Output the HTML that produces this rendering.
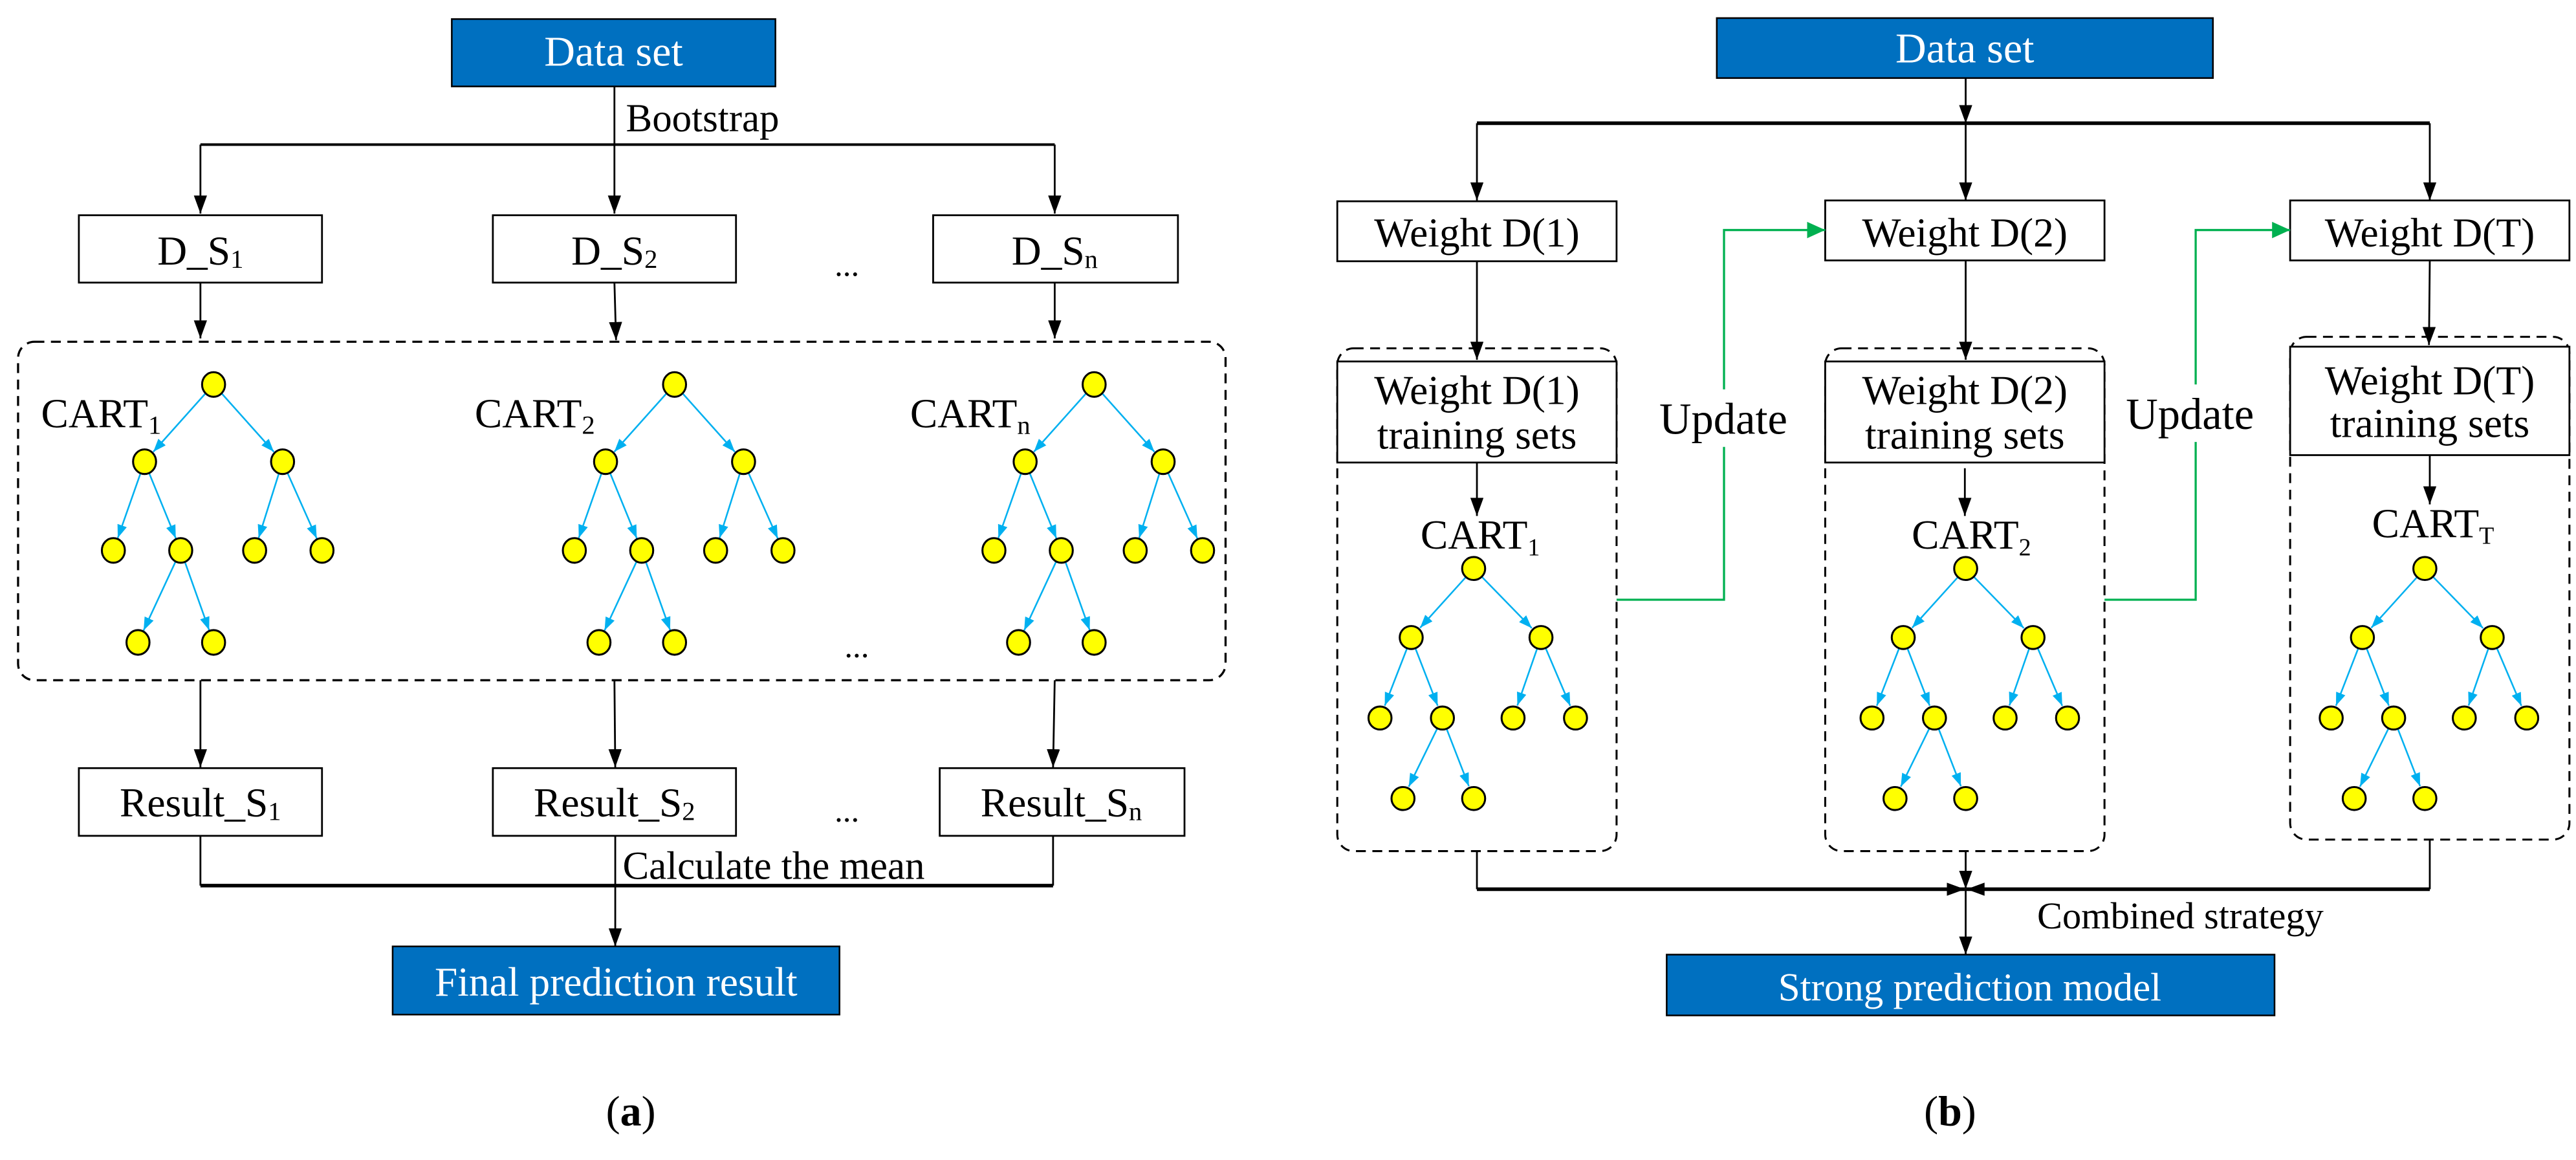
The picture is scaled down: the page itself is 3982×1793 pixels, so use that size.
<!DOCTYPE html>
<html><head><meta charset="utf-8"><style>
html,body{margin:0;padding:0;background:#fff;}
svg{display:block;}
text{font-family:"Liberation Serif",serif;}
</style></head><body>
<svg width="3982" height="1793" viewBox="0 0 1568 706" preserveAspectRatio="none" xmlns="http://www.w3.org/2000/svg">
<defs>
<marker id="ab" markerUnits="userSpaceOnUse" markerWidth="12" markerHeight="9" refX="11" refY="4" orient="auto"><path d="M0,0 L11,4 L0,8 z" fill="#000"/></marker>
<marker id="ag" markerUnits="userSpaceOnUse" markerWidth="12" markerHeight="11" refX="11" refY="5" orient="auto"><path d="M0,0 L11,5 L0,10 z" fill="#00b050"/></marker>
<marker id="au" markerUnits="userSpaceOnUse" markerWidth="9" markerHeight="7" refX="8" refY="3" orient="auto"><path d="M0,0 L8,3 L0,6 z" fill="#00b0f0"/></marker>
<g id="tl" stroke="#00b0f0" stroke-width="1" fill="none">
<line x1="-4.7" y1="5.2" x2="-36.7" y2="41" marker-end="url(#au)"/>
<line x1="4.7" y1="5.2" x2="36.7" y2="41" marker-end="url(#au)"/>
<line x1="-44.3" y1="53.6" x2="-58.3" y2="93.4" marker-end="url(#au)"/>
<line x1="-39.4" y1="53.5" x2="-23" y2="93.6" marker-end="url(#au)"/>
<line x1="39.9" y1="53.7" x2="27.4" y2="93.4" marker-end="url(#au)"/>
<line x1="44.8" y1="53.4" x2="62.8" y2="93.7" marker-end="url(#au)"/>
<line x1="-22.9" y1="107.3" x2="-42.6" y2="149.7" marker-end="url(#au)"/>
<line x1="-17.6" y1="107.6" x2="-2.7" y2="149.5" marker-end="url(#au)"/>
<g fill="#ffff00" stroke="#000" stroke-width="1.2">
<ellipse cx="0" cy="0" rx="7" ry="7.5"/>
<ellipse cx="-42" cy="47" rx="7" ry="7.5"/><ellipse cx="42" cy="47" rx="7" ry="7.5"/>
<ellipse cx="-61" cy="101" rx="7" ry="7.5"/><ellipse cx="-20" cy="101" rx="7" ry="7.5"/>
<ellipse cx="25" cy="101" rx="7" ry="7.5"/><ellipse cx="66" cy="101" rx="7" ry="7.5"/>
<ellipse cx="-46" cy="157" rx="7" ry="7.5"/><ellipse cx="0" cy="157" rx="7" ry="7.5"/>
</g></g>
<g id="tr" stroke="#00b0f0" stroke-width="1" fill="none">
<line x1="-4.7" y1="5.2" x2="-32.6" y2="36.1" marker-end="url(#au)"/>
<line x1="4.9" y1="5" x2="35.4" y2="36.3" marker-end="url(#au)"/>
<line x1="-40.5" y1="48.5" x2="-54.1" y2="83.5" marker-end="url(#au)"/>
<line x1="-35.5" y1="48.5" x2="-21.9" y2="83.5" marker-end="url(#au)"/>
<line x1="38.7" y1="48.6" x2="26.6" y2="83.4" marker-end="url(#au)"/>
<line x1="43.8" y1="48.4" x2="58.8" y2="83.6" marker-end="url(#au)"/>
<line x1="-22.1" y1="97.3" x2="-39.5" y2="132.8" marker-end="url(#au)"/>
<line x1="-16.5" y1="97.5" x2="-2.9" y2="132.5" marker-end="url(#au)"/>
<g fill="#ffff00" stroke="#000" stroke-width="1.2">
<ellipse cx="0" cy="0" rx="7" ry="7"/>
<ellipse cx="-38" cy="42" rx="7" ry="7"/><ellipse cx="41" cy="42" rx="7" ry="7"/>
<ellipse cx="-57" cy="91" rx="7" ry="7"/><ellipse cx="-19" cy="91" rx="7" ry="7"/>
<ellipse cx="24" cy="91" rx="7" ry="7"/><ellipse cx="62" cy="91" rx="7" ry="7"/>
<ellipse cx="-43" cy="140" rx="7" ry="7"/><ellipse cx="0" cy="140" rx="7" ry="7"/>
</g></g>
</defs>

<!-- ===== Panel (a) ===== -->
<g stroke="#000" stroke-width="1.1" fill="none">
<line x1="374" y1="52.5" x2="374" y2="88"/>
<line x1="122" y1="88" x2="642" y2="88" stroke-width="1.6"/>
<line x1="122" y1="88" x2="122" y2="130" marker-end="url(#ab)"/>
<line x1="374" y1="88" x2="374" y2="130" marker-end="url(#ab)"/>
<line x1="642" y1="88" x2="642" y2="130" marker-end="url(#ab)"/>
<line x1="122" y1="172" x2="122" y2="206" marker-end="url(#ab)"/>
<line x1="374" y1="172" x2="375" y2="207" marker-end="url(#ab)"/>
<line x1="642" y1="172" x2="642" y2="206" marker-end="url(#ab)"/>
<line x1="122" y1="414" x2="122" y2="467" marker-end="url(#ab)"/>
<line x1="374" y1="414" x2="374.5" y2="467" marker-end="url(#ab)"/>
<line x1="642" y1="414" x2="641" y2="467" marker-end="url(#ab)"/>
<line x1="122" y1="508.7" x2="122" y2="539"/>
<line x1="641" y1="508.7" x2="641" y2="539"/>
<line x1="122" y1="539" x2="641" y2="539" stroke-width="2.2"/>
<line x1="374.5" y1="508.7" x2="374.5" y2="576" marker-end="url(#ab)"/>
<rect x="11" y="208" width="735" height="206" rx="10" stroke-dasharray="6,4" stroke-width="1.3"/>
<rect x="48" y="131" width="148" height="41" fill="#fff"/>
<rect x="300" y="131" width="148" height="41" fill="#fff"/>
<rect x="568" y="131" width="149" height="41" fill="#fff"/>
<rect x="48" y="467.5" width="148" height="41.2" fill="#fff"/>
<rect x="300" y="467.5" width="148" height="41.2" fill="#fff"/>
<rect x="572" y="467.5" width="149" height="41.2" fill="#fff"/>
</g>
<rect x="275" y="11.6" width="197" height="41" fill="#0070c0" stroke="#000" stroke-width="1"/>
<rect x="239" y="576" width="272" height="41.5" fill="#0070c0" stroke="#000" stroke-width="1"/>
<g font-size="25" fill="#000" text-anchor="middle">
<text x="373.5" y="40" fill="#fff" font-size="26">Data set</text>
<text x="375" y="606" fill="#fff">Final prediction result</text>
<text x="122" y="161">D_S<tspan font-size="16" dy="2">1</tspan></text>
<text x="374" y="161">D_S<tspan font-size="16" dy="2">2</tspan></text>
<text x="642" y="161">D_S<tspan font-size="16" dy="2">n</tspan></text>
<text x="122" y="497">Result_S<tspan font-size="16" dy="2">1</tspan></text>
<text x="374" y="497">Result_S<tspan font-size="16" dy="2">2</tspan></text>
<text x="646" y="497">Result_S<tspan font-size="16" dy="2">n</tspan></text>
<text x="384" y="685" font-size="26">(<tspan font-weight="bold">a</tspan>)</text>
</g>
<g font-size="24" fill="#000">
<text x="381" y="80">Bootstrap</text>
<text x="379" y="535">Calculate the mean</text>
<text x="508" y="168" font-size="20">...</text>
<text x="514" y="400" font-size="20">...</text>
<text x="508" y="500" font-size="20">...</text>
<text x="25" y="260" font-size="25">CART<tspan font-size="16" dy="4">1</tspan></text>
<text x="289" y="260" font-size="25">CART<tspan font-size="16" dy="4">2</tspan></text>
<text x="554" y="260" font-size="25">CART<tspan font-size="16" dy="4">n</tspan></text>
</g>
<use href="#tl" x="130" y="234"/>
<use href="#tl" x="410.6" y="234"/>
<use href="#tl" x="666" y="234"/>

<!-- ===== Panel (b) ===== -->
<g stroke="#000" stroke-width="1.1" fill="none">
<line x1="1196.5" y1="47.5" x2="1196.5" y2="75" marker-end="url(#ab)"/>
<line x1="899" y1="75" x2="1479" y2="75" stroke-width="2.2"/>
<line x1="899" y1="75" x2="899" y2="122" marker-end="url(#ab)"/>
<line x1="1196.5" y1="75" x2="1196.5" y2="122" marker-end="url(#ab)"/>
<line x1="1479" y1="75" x2="1479" y2="122" marker-end="url(#ab)"/>
<line x1="899" y1="159" x2="899" y2="219" marker-end="url(#ab)"/>
<line x1="1196.5" y1="159" x2="1196.5" y2="219" marker-end="url(#ab)"/>
<line x1="1479" y1="159" x2="1478.5" y2="210" marker-end="url(#ab)"/>
<rect x="814" y="212" width="170" height="306" rx="10" stroke-dasharray="6,4" stroke-width="1.2"/>
<rect x="1111" y="212" width="170" height="306" rx="10" stroke-dasharray="6,4" stroke-width="1.2"/>
<rect x="1394" y="205" width="170" height="306" rx="10" stroke-dasharray="6,4" stroke-width="1.2"/>
<rect x="814" y="122.5" width="170" height="36.5" fill="#fff"/>
<rect x="1111" y="122" width="170" height="36.5" fill="#fff"/>
<rect x="1394" y="122" width="170" height="36.5" fill="#fff"/>
<rect x="814" y="220" width="170" height="61.5" fill="#fff"/>
<rect x="1111" y="220" width="170" height="61.5" fill="#fff"/>
<rect x="1394" y="211" width="170" height="66" fill="#fff"/>
<line x1="899" y1="281.5" x2="899" y2="314" marker-end="url(#ab)"/>
<line x1="1196" y1="285" x2="1196" y2="314" marker-end="url(#ab)"/>
<line x1="1479" y1="277" x2="1479" y2="307" marker-end="url(#ab)"/>
<line x1="899" y1="518" x2="899" y2="541.2"/>
<line x1="1479" y1="511" x2="1479" y2="541.2"/>
<line x1="899" y1="541.2" x2="1196" y2="541.2" stroke-width="2.2" marker-end="url(#ab)"/>
<line x1="1479" y1="541.2" x2="1197" y2="541.2" stroke-width="2.2" marker-end="url(#ab)"/>
<line x1="1196.5" y1="518" x2="1196.5" y2="541" marker-end="url(#ab)"/>
<line x1="1196.5" y1="541" x2="1196.5" y2="581" marker-end="url(#ab)"/>
</g>
<g stroke="#00b050" stroke-width="1.3" fill="none">
<polyline points="984,365 1049.4,365 1049.4,272"/>
<polyline points="1049.4,237 1049.4,140 1111,140" marker-end="url(#ag)"/>
<polyline points="1281,365 1336.5,365 1336.5,269"/>
<polyline points="1336.5,234 1336.5,140 1394,140" marker-end="url(#ag)"/>
</g>
<rect x="1045" y="11" width="302" height="36.5" fill="#0070c0" stroke="#000" stroke-width="1"/>
<rect x="1014.5" y="581" width="370" height="37" fill="#0070c0" stroke="#000" stroke-width="1"/>
<g font-size="25" fill="#000" text-anchor="middle">
<text x="1196" y="38" fill="#fff" font-size="26">Data set</text>
<text x="1199" y="609" fill="#fff" font-size="24">Strong prediction model</text>
<text x="899" y="150">Weight D(1)</text>
<text x="1196" y="150">Weight D(2)</text>
<text x="1479" y="150">Weight D(T)</text>
<text x="899" y="246">Weight D(1)</text>
<text x="899" y="273">training sets</text>
<text x="1196" y="246">Weight D(2)</text>
<text x="1196" y="273">training sets</text>
<text x="1479" y="240">Weight D(T)</text>
<text x="1479" y="266">training sets</text>
<text x="901" y="334">CART<tspan font-size="15" dy="4">1</tspan></text>
<text x="1200" y="334">CART<tspan font-size="15" dy="4">2</tspan></text>
<text x="1481" y="327">CART<tspan font-size="15" dy="4">T</tspan></text>
<text x="1049" y="264" font-size="27">Update</text>
<text x="1333" y="261" font-size="27">Update</text>
<text x="1187" y="685" font-size="26">(<tspan font-weight="bold">b</tspan>)</text>
</g>
<text x="1240" y="565" font-size="23" fill="#000">Combined strategy</text>
<use href="#tr" x="897" y="346"/>
<use href="#tr" x="1196.5" y="346"/>
<use href="#tr" x="1476" y="346"/>
</svg>
</body></html>
